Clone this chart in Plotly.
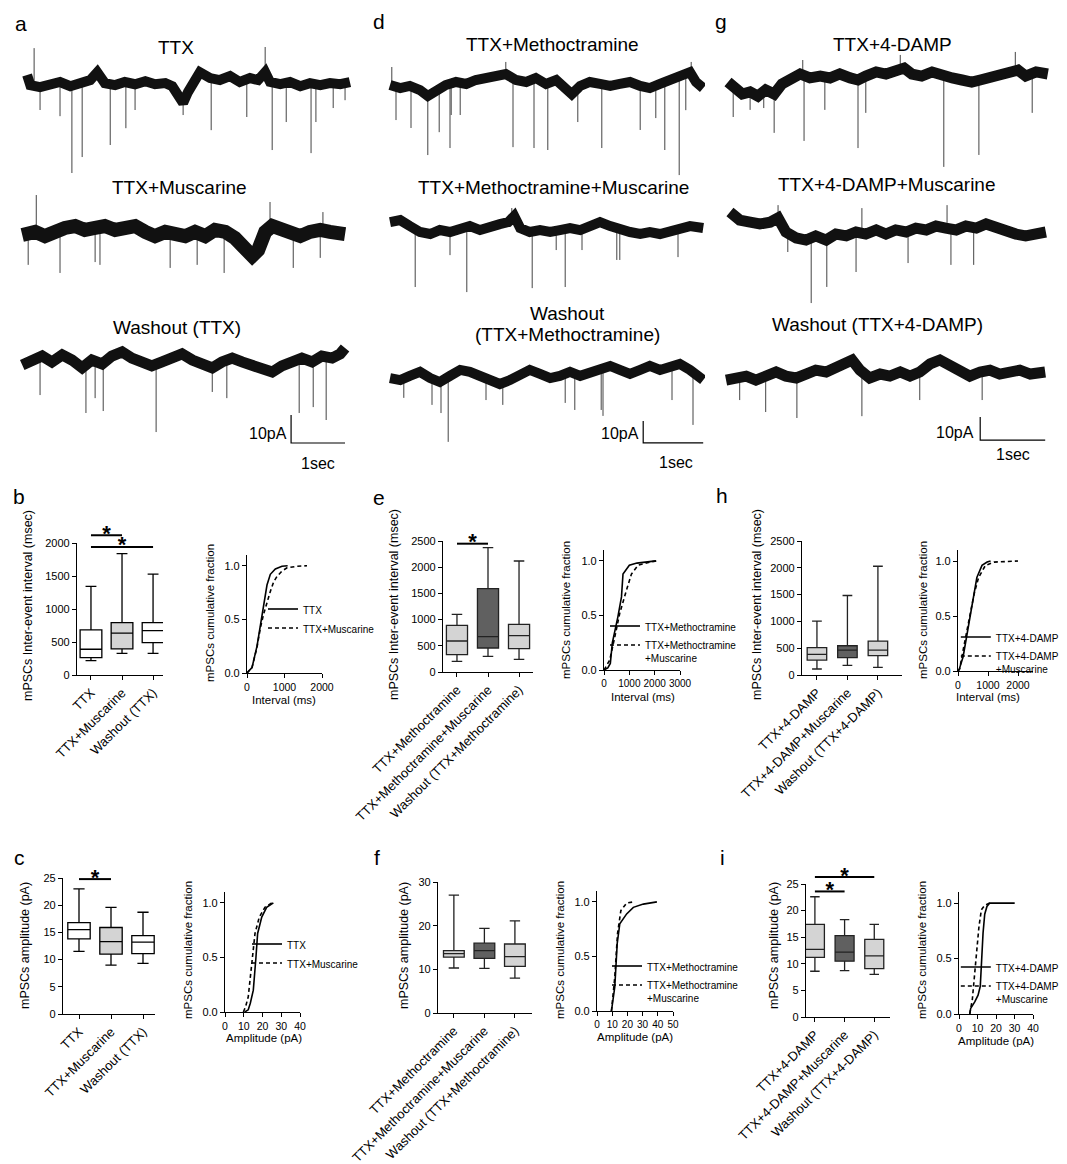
import numpy as np
import plotly.graph_objects as go

# The page body adds an 8 px margin; the figure is sized to the window minus that offset.
OFF = 8
W, H = 1067 - OFF, 1164 - OFF
FONT = "Arial, 'Liberation Sans', Helvetica, sans-serif"

# ================= DATA =================
# --- example recordings: baseline current (pA) vs time (s), plus events (time, peak pA)
a1_t = [0.00,0.06,0.24,0.43,0.61,0.80,0.98,1.17,1.30,1.44,1.63,1.81,2.00,2.19,2.37,2.56,2.69,2.80,2.89,2.98,3.11,3.20,3.39,3.57,3.76,3.94,4.13,4.28,4.41,4.50,4.69,4.87,5.06,5.24,5.43,5.61,5.80,5.98]
a1_i = [2.9,-0.7,-1.4,-0.7,0.4,-1.1,0,1.1,3.9,0,-0.7,0.4,-0.4,0.7,-0.4,0,-1.1,-4.3,-7.1,-3.2,1.1,3.9,1.8,1.1,2.5,0.4,1.8,1.1,3.9,0.4,-0.4,0.4,-1.1,0,-0.7,0,-0.4,0.4]
a1_ev_t = [0.13,0.24,0.61,0.83,1.02,1.54,1.83,2.00,2.89,3.41,4.07,4.41,4.54,4.80,5.26,5.35,5.67,5.89]
a1_ev_i = [12.5,-9.6,-11.8,-32.1,-26.4,-22.1,-16.1,-9.6,-11.4,-16.8,-12.1,12.9,-23.9,-13.9,-25.0,-13.9,-8.9,-6.1]

a2_t = [-0.09,0.15,0.33,0.52,0.70,0.89,1.07,1.26,1.44,1.63,1.81,2.00,2.19,2.37,2.56,2.74,2.93,3.11,3.30,3.48,3.67,3.85,4.04,4.17,4.28,4.41,4.54,4.69,4.87,5.06,5.24,5.43,5.61,5.89]
a2_i = [-0.7,0.4,-1.1,1.1,1.8,2.5,1.1,1.8,2.5,1.1,1.8,2.5,0.4,-1.1,0.4,-0.4,-1.1,0.4,-1.1,1.1,0.4,-1.8,-5.4,-8.2,-6.1,0.4,2.5,1.8,0.4,-1.1,0.4,1.1,0.4,-0.4]
a2_ev_t = [0.02,0.17,0.61,1.26,1.35,2.65,3.15,3.65,4.50,4.93,5.43,5.48]
a2_ev_i = [-11.4,13.6,-14.3,-10.4,-11.4,-12.5,-11.4,-14.3,11.1,-12.5,-8.9,7.5]

a3_t = [-0.09,0.09,0.28,0.46,0.65,0.83,1.02,1.20,1.39,1.57,1.76,1.94,2.13,2.31,2.50,2.69,2.87,3.06,3.24,3.43,3.61,3.80,3.98,4.17,4.35,4.54,4.72,4.91,5.09,5.28,5.46,5.65,5.80,5.89]
a3_i = [-1.1,0.7,2.1,0,2.5,0.7,-2.1,0.7,-0.7,2.1,3.6,1.4,0,-1.4,0,1.4,2.9,0.7,-0.7,-2.1,0,1.4,0,-1.4,-2.1,-3.6,-1.4,0,1.4,0,2.1,1.4,2.9,5.0]
a3_ev_t = [0.24,1.09,1.26,1.41,2.39,3.43,3.70,5.04,5.30,5.54]
a3_ev_i = [-11.8,-18.2,-12.9,-17.5,-25.0,-10.7,-12.9,-18.2,-16.1,-20.7]

d1_t = [0.00,0.17,0.33,0.50,0.63,0.77,0.93,1.10,1.27,1.43,1.60,1.77,1.93,2.10,2.27,2.43,2.60,2.77,2.93,3.03,3.17,3.33,3.50,3.67,3.83,4.00,4.17,4.33,4.50,4.67,4.83,5.00,5.10,5.22]
d1_i = [0.9,-0.5,0.5,-1.4,-4.1,-1.4,0.9,2.3,1.4,3.2,4.1,5.0,5.9,3.2,2.3,4.1,1.4,3.2,-0.5,-3.2,0.5,2.3,1.4,0.5,1.4,2.3,0.5,-0.5,1.4,3.2,4.1,6.8,2.3,-0.5]
d1_ev_t = [0.03,0.10,0.35,0.63,0.82,1.00,1.02,1.17,1.93,2.05,2.40,2.63,3.13,3.53,4.17,4.43,4.58,4.82,4.93,5.02]
d1_ev_i = [9.1,-15.0,-18.6,-30.9,-20.5,-27.7,-12.7,-12.7,11.4,-27.3,-27.7,-28.6,-15.9,-27.7,-19.5,-14.1,-28.6,-40.0,-10.5,11.4]

d2_t = [0.00,0.17,0.33,0.50,0.67,0.83,1.00,1.17,1.33,1.50,1.67,1.83,1.97,2.07,2.17,2.33,2.50,2.67,2.83,3.00,3.17,3.33,3.50,3.67,3.83,4.00,4.17,4.33,4.50,4.67,4.83,5.00,5.22]
d2_i = [2.7,3.6,0.9,-1.8,-2.7,-0.9,-1.8,0,0.9,-0.9,0.9,1.8,2.7,5.5,0,-1.8,-0.9,-1.8,-0.9,0,-0.9,0.9,2.7,0.9,-0.9,-1.8,-2.7,-1.8,-2.7,-1.8,-0.9,0.9,0]
d2_ev_t = [0.42,1.00,1.28,2.03,2.37,2.77,2.92,3.20,3.78,3.83,4.80]
d2_ev_i = [-26.8,-12.3,-29.1,9.1,-27.3,-10.0,-26.8,-10.0,-14.5,-14.5,-13.2]

d3_t = [0.00,0.17,0.33,0.50,0.67,0.83,1.00,1.17,1.33,1.50,1.67,1.83,2.00,2.17,2.33,2.50,2.67,2.83,3.00,3.17,3.33,3.50,3.67,3.83,4.00,4.17,4.33,4.50,4.67,4.83,5.00,5.22]
d3_i = [-0.5,-1.4,0.5,2.3,-0.5,-2.3,0.5,3.2,2.3,0.5,-1.4,-3.2,-1.4,1.4,3.2,1.4,-0.5,0.5,2.3,0.5,2.3,4.1,5.0,3.2,1.4,3.2,5.0,3.2,5.0,5.9,3.2,-1.4]
d3_ev_t = [0.23,0.70,0.85,0.97,1.60,1.88,2.92,3.08,3.52,3.55,4.70,5.05]
d3_ev_i = [-9.5,-12.7,-16.4,-29.5,-10.5,-12.7,-11.8,-15.0,-15.0,-17.7,-10.5,-21.8]

g1_t = [0.00,0.11,0.22,0.34,0.46,0.58,0.71,0.83,0.95,1.11,1.26,1.42,1.57,1.72,1.88,2.00,2.12,2.28,2.43,2.58,2.71,2.83,2.98,3.14,3.29,3.45,3.60,3.75,3.88,4.03,4.18,4.34,4.46,4.58,4.74,4.92]
g1_i = [-0.9,-4.3,-6.1,-5.2,-7.0,-4.3,-6.1,-1.7,0,2.6,0.9,1.7,0.9,2.6,0.9,0,1.7,3.5,2.6,3.5,5.2,2.6,1.7,3.5,1.7,0.9,0,-0.9,0,0.9,1.7,2.6,4.3,1.7,3.5,2.6]
g1_ev_t = [0.08,0.34,0.55,0.71,1.15,1.17,1.49,2.00,2.12,2.65,3.32,3.86,4.42,4.68]
g1_ev_i = [-16.1,-13.0,-12.2,-23.0,8.7,-26.5,-13.0,-29.6,-14.3,10.9,-37.8,-32.6,12.2,-14.3]

g2_t = [0.03,0.18,0.34,0.49,0.65,0.77,0.89,1.05,1.20,1.35,1.51,1.66,1.82,1.97,2.12,2.28,2.43,2.58,2.74,2.89,3.05,3.20,3.35,3.51,3.66,3.82,3.97,4.12,4.28,4.43,4.58,4.74,4.89]
g2_i = [8.7,5.2,4.3,3.5,4.3,6.1,0,-2.6,-3.5,-1.7,-3.5,-0.9,-1.7,0,-0.9,0.9,-0.9,0.9,0,1.7,0.9,2.6,1.7,0.9,2.6,1.7,3.5,1.7,0.9,-0.9,-1.7,-0.9,0]
g2_ev_t = [0.77,0.92,1.28,1.52,1.97,2.06,2.77,3.37,3.43,3.78]
g2_ev_i = [11.7,-8.7,-30.9,-23.9,-17.4,10.4,-13.5,11.7,-14.3,-14.3]

g3_t = [-0.03,0.12,0.28,0.43,0.58,0.74,0.89,1.05,1.20,1.35,1.51,1.66,1.82,1.91,2.03,2.18,2.34,2.49,2.65,2.80,2.95,3.11,3.26,3.42,3.57,3.72,3.88,4.03,4.18,4.34,4.49,4.65,4.88]
g3_i = [-1.3,-0.4,0.4,-1.3,0.4,2.2,0.4,-0.4,1.3,3.0,2.2,3.9,6.5,7.4,3.0,-0.4,1.3,0.4,2.2,0.4,2.2,5.7,7.4,4.8,2.2,0.4,2.2,3.0,1.3,2.2,3.0,1.3,2.2]
g3_ev_t = [0.18,0.58,1.06,2.06,2.95,3.91]
g3_ev_i = [-10.0,-15.2,-17.8,-17.0,-10.0,-10.0]

# scale bars: (start time s, start current pA); bar sizes
scale_a = (4.89, -28.9)
scale_d = (4.22, -30.0)
scale_g = (3.88, -27.4)
SCALE_PA = 10
SCALE_S = 1

titles_a = ["TTX", "TTX+Muscarine", "Washout (TTX)"]
titles_d = ["TTX+Methoctramine", "TTX+Methoctramine+Muscarine", "Washout", "(TTX+Methoctramine)"]
titles_g = ["TTX+4-DAMP", "TTX+4-DAMP+Muscarine", "Washout (TTX+4-DAMP)"]

# --- box plot summaries
labels_b = ["TTX", "TTX+Muscarine", "Washout (TTX)"]
labels_e = ["TTX+Methoctramine", "TTX+Methoctramine+Muscarine", "Washout (TTX+Methoctramine)"]
labels_h = ["TTX+4-DAMP", "TTX+4-DAMP+Muscarine", "Washout (TTX+4-DAMP)"]

b_lo = [218, 329, 329]; b_q1 = [263, 395, 491]; b_med = [390, 633, 673]; b_q3 = [683, 795, 795]; b_hi = [1342, 1838, 1529]
c_lo = [11.5, 9.0, 9.3]; c_q1 = [13.8, 11.0, 11.1]; c_med = [15.5, 13.3, 13.2]; c_q3 = [16.8, 15.9, 14.4]; c_hi = [23.0, 19.6, 18.7]
e_lo = [204, 299, 242]; e_q1 = [331, 458, 445]; e_med = [592, 674, 693]; e_q3 = [891, 1590, 910]; e_hi = [1100, 2373, 2118]
f_lo = [10.3, 10.2, 8.0]; f_q1 = [12.8, 12.5, 10.7]; f_med = [13.6, 14.3, 12.9]; f_q3 = [14.3, 16.0, 15.8]; f_hi = [27.0, 19.4, 21.1]
h_lo = [112, 180, 143]; h_q1 = [279, 323, 360]; h_med = [385, 465, 465]; h_q3 = [509, 546, 633]; h_hi = [1005, 1483, 2029]
i_lo = [8.6, 8.7, 8.0]; i_q1 = [11.2, 10.5, 9.1]; i_med = [12.7, 12.2, 11.5]; i_q3 = [17.4, 15.3, 14.6]; i_hi = [22.6, 18.3, 17.4]

# significance: (group a, group b, level)
sig_b = [(0, 1, 2117), (0, 2, 1940)]
sig_c = [(0, 1, 24.8)]
sig_e = [(0, 1, 2449)]
sig_i = [(0, 2, 26.3), (0, 1, 23.6)]

# --- cumulative distributions
b_ctl_x = [0, 133, 267, 356, 444, 533, 622, 756, 933, 1084]
b_ctl_y = [0, 0.05, 0.25, 0.45, 0.65, 0.82, 0.92, 0.97, 0.995, 1.0]
b_mus_x = [0, 133, 267, 356, 444, 533, 622, 711, 800, 933, 1067, 1333, 1600]
b_mus_y = [0, 0.05, 0.24, 0.42, 0.55, 0.66, 0.76, 0.85, 0.90, 0.95, 0.98, 0.995, 1.0]

c_ctl_x = [10.5, 12.4, 13.5, 15.1, 16.5, 17.4, 19.6, 22.2, 25.8]
c_ctl_y = [0, 0.02, 0.08, 0.2, 0.5, 0.72, 0.87, 0.96, 1.0]
c_mus_x = [9.8, 11.0, 12.4, 14.8, 16.0, 18.3, 21.3, 24.9]
c_mus_y = [0, 0.05, 0.14, 0.5, 0.72, 0.87, 0.96, 1.0]

e_ctl_x = [0, 150, 250, 330, 550, 690, 750, 1000, 1300, 2050]
e_ctl_y = [0, 0.02, 0.06, 0.25, 0.49, 0.67, 0.88, 0.96, 0.98, 1.0]
e_mus_x = [0, 100, 225, 423, 621, 885, 1083, 1347, 1810, 2075]
e_mus_y = [0, 0.04, 0.09, 0.30, 0.52, 0.73, 0.88, 0.96, 0.99, 1.0]

f_ctl_x = [9.5, 11.7, 13.3, 15.0, 19.5, 23.9, 30.5, 39.4]
f_ctl_y = [0, 0.22, 0.62, 0.80, 0.89, 0.95, 0.98, 1.0]
f_mus_x = [9.5, 11.7, 13.5, 15.7, 19.5, 23.9]
f_mus_y = [0, 0.31, 0.71, 0.92, 0.99, 1.0]

h_ctl_x = [0, 34, 171, 286, 400, 514, 629, 800, 971, 1086]
h_ctl_y = [0, 0.01, 0.13, 0.31, 0.52, 0.70, 0.85, 0.96, 0.99, 1.0]
h_mus_x = [0, 57, 171, 286, 400, 537, 686, 914, 1200, 2000]
h_mus_y = [0, 0.02, 0.19, 0.34, 0.52, 0.70, 0.85, 0.96, 0.99, 1.0]

i_ctl_x = [5.8, 6.3, 8.5, 10.3, 11.5, 12.1, 13.0, 13.9, 15.1, 16.6, 30.1]
i_ctl_y = [0, 0.05, 0.11, 0.17, 0.25, 0.49, 0.73, 0.90, 0.97, 1.0, 1.0]
i_mus_x = [5.8, 7.2, 8.5, 9.7, 10.8, 12.1, 13.9, 16.6]
i_mus_y = [0, 0.13, 0.37, 0.58, 0.79, 0.94, 0.98, 1.0]

# ================= FIGURE =================
fig = go.Figure()
lay = {}
anns = []
counter = [0]

def dom_x(x0, x1):
    return [max(0, (x0 - OFF) / W), min(1, (x1 - OFF) / W)]

def dom_y(y0, y1):
    return [max(0, 1 - (y1 - OFF) / H), min(1, 1 - (y0 - OFF) / H)]

AXSTYLE = dict(visible=True, showline=True, linecolor='black', linewidth=1.2,
               ticks='outside', ticklen=4, tickwidth=1.2, tickcolor='black',
               tickfont=dict(size=11, color='black', family=FONT),
               showgrid=False, zeroline=False, automargin=False)
HIDDEN = dict(visible=False, showgrid=False, zeroline=False, automargin=False)

def add_axes(xpx, ypx, xr, yr, xopt=None, yopt=None):
    counter[0] += 1
    s = '' if counter[0] == 1 else str(counter[0])
    xa = dict(HIDDEN); xa.update(domain=dom_x(*xpx), range=xr, anchor='y' + s)
    ya = dict(HIDDEN); ya.update(domain=dom_y(*ypx), range=yr, anchor='x' + s)
    if xopt: xa.update(xopt)
    if yopt: ya.update(yopt)
    lay['xaxis' + s] = xa
    lay['yaxis' + s] = ya
    return 'x' + s, 'y' + s

def add_yaxis(ypx, yr, xref):
    counter[0] += 1
    s = str(counter[0])
    ya = dict(HIDDEN); ya.update(domain=dom_y(*ypx), range=yr, anchor=xref)
    lay['yaxis' + s] = ya
    return 'y' + s

def ann(text, x, y, size, xanchor='center', yanchor='middle', angle=0):
    anns.append(dict(text=text, x=(x - OFF) / W, y=1 - (y - OFF) / H, xref='paper', yref='paper',
                     xanchor=xanchor, yanchor=yanchor, showarrow=False, textangle=angle,
                     font=dict(size=size, color='black', family=FONT)))

def add_recording(t, cur, ev_t, ev_i, xr, xpx, ypx, yr, width=8, scale=None):
    xr_, yr_ = add_axes(xpx, ypx, xr, yr)
    base_at_ev = np.interp(ev_t, t, cur)
    sx, sy = [], []
    for tt, b0, pk in zip(ev_t, base_at_ev, ev_i):
        sx += [tt, tt, None]
        sy += [b0, pk, None]
    fig.add_trace(go.Scatter(x=sx, y=sy, mode='lines', line=dict(color='#444444', width=1),
                             xaxis=xr_, yaxis=yr_, showlegend=False, hoverinfo='skip'))
    fig.add_trace(go.Scatter(x=t, y=cur, mode='lines', line=dict(color='#111111', width=width),
                             xaxis=xr_, yaxis=yr_, showlegend=False, hoverinfo='skip'))
    if scale is not None:
        t0, i0 = scale
        fig.add_trace(go.Scatter(x=[t0, t0, t0 + SCALE_S], y=[i0 + SCALE_PA, i0, i0], mode='lines',
                                 line=dict(color='black', width=1.2),
                                 xaxis=xr_, yaxis=yr_, showlegend=False, hoverinfo='skip'))

# ---- recordings column a (2.8 px/pA, 54 px/s)
xa_r, xa_px = [-0.15, 6.0], (19, 351)
add_recording(a1_t, a1_i, a1_ev_t, a1_ev_i, xa_r, xa_px, (40, 180), [-34.6, 15.4], 10)
add_recording(a2_t, a2_i, a2_ev_t, a2_ev_i, xa_r, xa_px, (190, 290), [-20.4, 15.4], 14)
add_recording(a3_t, a3_i, a3_ev_t, a3_ev_i, xa_r, xa_px, (330, 450), [-31.4, 11.4], 11, scale_a)
# ---- column d (2.2 px/pA, 60 px/s)
xd_r, xd_px = [-0.1, 5.25], (384, 705)
add_recording(d1_t, d1_i, d1_ev_t, d1_ev_i, xd_r, xd_px, (45, 185), [-44.5, 19.1], 10)
add_recording(d2_t, d2_i, d2_ev_t, d2_ev_i, xd_r, xd_px, (190, 300), [-32.7, 17.3], 10)
add_recording(d3_t, d3_i, d3_ev_t, d3_ev_i, xd_r, xd_px, (340, 450), [-33.2, 16.8], 10, scale_d)
# ---- column g (2.3 px/pA, 65 px/s)
xg_r, xg_px = [-0.1, 5.0], (721.5, 1053)
add_recording(g1_t, g1_i, g1_ev_t, g1_ev_i, xg_r, xg_px, (40, 180), [-43.5, 17.4], 11)
add_recording(g2_t, g2_i, g2_ev_t, g2_ev_i, xg_r, xg_px, (195, 315), [-36.1, 16.1], 11)
add_recording(g3_t, g3_i, g3_ev_t, g3_ev_i, xg_r, xg_px, (340, 450), [-31.7, 16.1], 11, scale_g)

# titles for recordings
for txt, (x, y) in zip(titles_a, [(176, 47), (179, 188), (177, 327)]):
    ann(txt, x, y, 19)
for txt, (x, y) in zip(titles_d, [(552, 45), (553, 188), (567, 313), (567, 334)]):
    ann(txt, x, y, 19)
for txt, (x, y) in zip(titles_g, [(892, 45), (887, 185), (877, 325)]):
    ann(txt, x, y, 19)
# scale bar labels
for (x, y) in [(289, 433), (641, 433), (976, 432)]:
    ann(f"{SCALE_PA}pA", x, y, 16, xanchor='right')
for (x, y) in [(318, 463), (676, 462), (1013, 454)]:
    ann(f"{SCALE_S}sec", x, y, 16)

# ---- box plots
LIGHT, DARK = '#d4d4d4', '#606060'

def add_boxes(xpx, ypx, xr, yr, labels, lo, q1, med, q3, hi, fills, yticks, width, sig=None, sigpx=None,
              linecolor='black'):
    xopt = dict(AXSTYLE); xopt.update(tickvals=[0, 1, 2], ticktext=labels, tickangle=-45,
                                       tickfont=dict(size=13, color='black', family=FONT))
    yopt = dict(AXSTYLE); yopt.update(tickvals=yticks)
    xr_, yr_ = add_axes(xpx, ypx, xr, yr, xopt, yopt)
    for k in range(3):
        fig.add_trace(go.Box(x=[k], lowerfence=[lo[k]], q1=[q1[k]], median=[med[k]], q3=[q3[k]],
                             upperfence=[hi[k]], fillcolor=fills[k], width=width, whiskerwidth=0.5,
                             line=dict(color=linecolor, width=1.3), boxpoints=False,
                             xaxis=xr_, yaxis=yr_, showlegend=False, hoverinfo='skip'))
    if sig:
        ysig = add_yaxis(sigpx[0], sigpx[1], xr_)
        for (g0, g1, lev) in sig:
            fig.add_trace(go.Scatter(x=[g0, g1], y=[lev, lev], mode='lines',
                                     line=dict(color='black', width=2), xaxis=xr_, yaxis=ysig,
                                     showlegend=False, hoverinfo='skip'))
            fig.add_trace(go.Scatter(x=[(g0 + g1) / 2], y=[lev], mode='text', text=['<b>*</b>'],
                                     textposition='middle center',
                                     textfont=dict(size=22, color='black', family=FONT),
                                     xaxis=xr_, yaxis=ysig, showlegend=False, hoverinfo='skip',
                                     cliponaxis=False))

add_boxes((77, 163), (543, 675), [-0.45, 2.32], [0, 2000], labels_b, b_lo, b_q1, b_med, b_q3, b_hi,
          ['white', LIGHT, 'white'], [0, 500, 1000, 1500, 2000], 0.7, sig_b, ((505, 675), [0, 2576]))
add_boxes((63, 155), (878, 1014), [-0.5, 2.375], [0, 25], labels_b, c_lo, c_q1, c_med, c_q3, c_hi,
          ['white', LIGHT, 'white'], [0, 5, 10, 15, 20, 25], 0.7, sig_c, ((850, 1014), [0, 30.15]))
add_boxes((443, 533), (541, 672), [-0.45, 2.45], [0, 2500], labels_e, e_lo, e_q1, e_med, e_q3, e_hi,
          [LIGHT, DARK, LIGHT], [0, 500, 1000, 1500, 2000, 2500], 0.68, sig_e, ((510, 672), [0, 3092]),
          '#222222')
add_boxes((438, 532), (882, 1013), [-0.52, 2.56], [0, 30], labels_e, f_lo, f_q1, f_med, f_q3, f_hi,
          [LIGHT, DARK, LIGHT], [0, 10, 20, 30], 0.68, None, None, '#222222')
add_boxes((802, 902), (541, 675), [-0.49, 2.79], [0, 2500], labels_h, h_lo, h_q1, h_med, h_q3, h_hi,
          [LIGHT, DARK, LIGHT], [0, 500, 1000, 1500, 2000, 2500], 0.64, None, None, '#222222')
add_boxes((806, 890), (884, 1017), [-0.3, 2.53], [0, 25], labels_h, i_lo, i_q1, i_med, i_q3, i_hi,
          [LIGHT, DARK, LIGHT], [0, 5, 10, 15, 20, 25], 0.64, sig_i, ((850, 1017), [0, 31.39]),
          '#222222')

# box y titles
ann("mPSCs Inter-event interval (msec)", 28, 606, 12.5, angle=-90)
ann("mPSCs amplitude (pA)", 25, 946, 12.5, angle=-90)
ann("mPSCs Inter-event interval (msec)", 394, 605, 12.5, angle=-90)
ann("mPSCs amplitude (pA)", 404, 946, 12.5, angle=-90)
ann("mPSCs Inter-event interval (msec)", 757, 605, 12.5, angle=-90)
ann("mPSCs amplitude (pA)", 774, 946, 12.5, angle=-90)

# ---- cumulative plots
legend_count = [0]

def add_cum(xpx, ypx, xr, xticks, cx, cy, mx, my, names, legpos, xtitle, xt_pos, yt_pos, xtick_size=10.5,
            right=False):
    xopt = dict(AXSTYLE); xopt.update(tickvals=xticks, tickangle=0,
                                       tickfont=dict(size=xtick_size, color='black', family=FONT))
    yopt = dict(AXSTYLE); yopt.update(tickvals=[0, 0.5, 1.0], ticktext=['0.0', '0.5', '1.0'])
    xr_, yr_ = add_axes(xpx, ypx, xr, [0, 1.1], xopt, yopt)
    legend_count[0] += 1
    lname = 'legend' if legend_count[0] == 1 else f'legend{legend_count[0]}'
    fig.add_trace(go.Scatter(x=cx, y=cy, mode='lines', name=names[0], line=dict(color='black', width=1.6),
                             xaxis=xr_, yaxis=yr_, legend=lname, hoverinfo='skip'))
    fig.add_trace(go.Scatter(x=mx, y=my, mode='lines', name=names[1],
                             line=dict(color='black', width=1.6, dash='4px,3px'),
                             xaxis=xr_, yaxis=yr_, legend=lname, hoverinfo='skip'))
    leg = dict(y=1 - (legpos[1] - 9 - OFF) / H, yanchor='top',
               bgcolor='rgba(0,0,0,0)', borderwidth=0, itemwidth=30, tracegroupgap=0,
               valign='top', font=dict(size=10, color='black', family=FONT))
    if right:
        leg.update(x=0.997, xanchor='right')
    else:
        leg.update(x=(legpos[0] - 40 - OFF) / W, xanchor='left')
    lay[lname] = leg
    ann(xtitle, xt_pos[0], xt_pos[1], 11.5)
    ann("mPSCs cumulative fraction", yt_pos[0], yt_pos[1], 11.5, angle=-90)

add_cum((247, 322), (555, 673), [0, 2000], [0, 1000, 2000], b_ctl_x, b_ctl_y, b_mus_x, b_mus_y,
        ["TTX", "TTX+Muscarine"], (303, 605), "Interval (ms)", (284, 700), (210, 613))
add_cum((225, 300), (892, 1012), [0, 40], [0, 10, 20, 30, 40], c_ctl_x, c_ctl_y, c_mus_x, c_mus_y,
        ["TTX", "TTX+Muscarine"], (287, 940), "Amplitude (pA)", (264, 1038), (188, 950))
add_cum((604, 680), (550, 670), [0, 3000], [0, 1000, 2000, 3000], e_ctl_x, e_ctl_y, e_mus_x, e_mus_y,
        ["TTX+Methoctramine", "TTX+Methoctramine<br>+Muscarine"], (645, 622), "Interval (ms)", (643, 697),
        (566, 610), 10)
add_cum((597, 673), (891, 1011), [0, 50], [0, 10, 20, 30, 40, 50], f_ctl_x, f_ctl_y, f_mus_x, f_mus_y,
        ["TTX+Methoctramine", "TTX+Methoctramine<br>+Muscarine"], (647, 962), "Amplitude (pA)", (635, 1037),
        (560, 950), 10)
add_cum((958, 1033), (550, 671), [0, 2500], [0, 1000, 2000], h_ctl_x, h_ctl_y, h_mus_x, h_mus_y,
        ["TTX+4-DAMP", "TTX+4-DAMP<br>+Muscarine"], (1004, 633), "Interval (ms)", (988, 697), (923, 610),
        right=True)
add_cum((959, 1033), (892, 1014), [0, 40], [0, 10, 20, 30, 40], i_ctl_x, i_ctl_y, i_mus_x, i_mus_y,
        ["TTX+4-DAMP", "TTX+4-DAMP<br>+Muscarine"], (1004, 963), "Amplitude (pA)", (996, 1041), (922, 950),
        right=True)

# panel letters
for txt, (x, y) in zip("adgbehcfi", [(21, 24), (379, 22), (721, 22), (19, 496), (379, 497), (722, 495),
                                     (19, 857), (377, 857), (722, 857)]):
    ann(txt, x, y, 21)

fig.update_layout(**lay)
fig.update_layout(width=W, height=H, autosize=False,
                  margin=dict(l=0, r=0, t=0, b=0, pad=0, autoexpand=False),
                  paper_bgcolor='white', plot_bgcolor='rgba(0,0,0,0)', annotations=anns,
                  font=dict(family=FONT, color='black'), showlegend=True)
fig.write_html("out.html")
